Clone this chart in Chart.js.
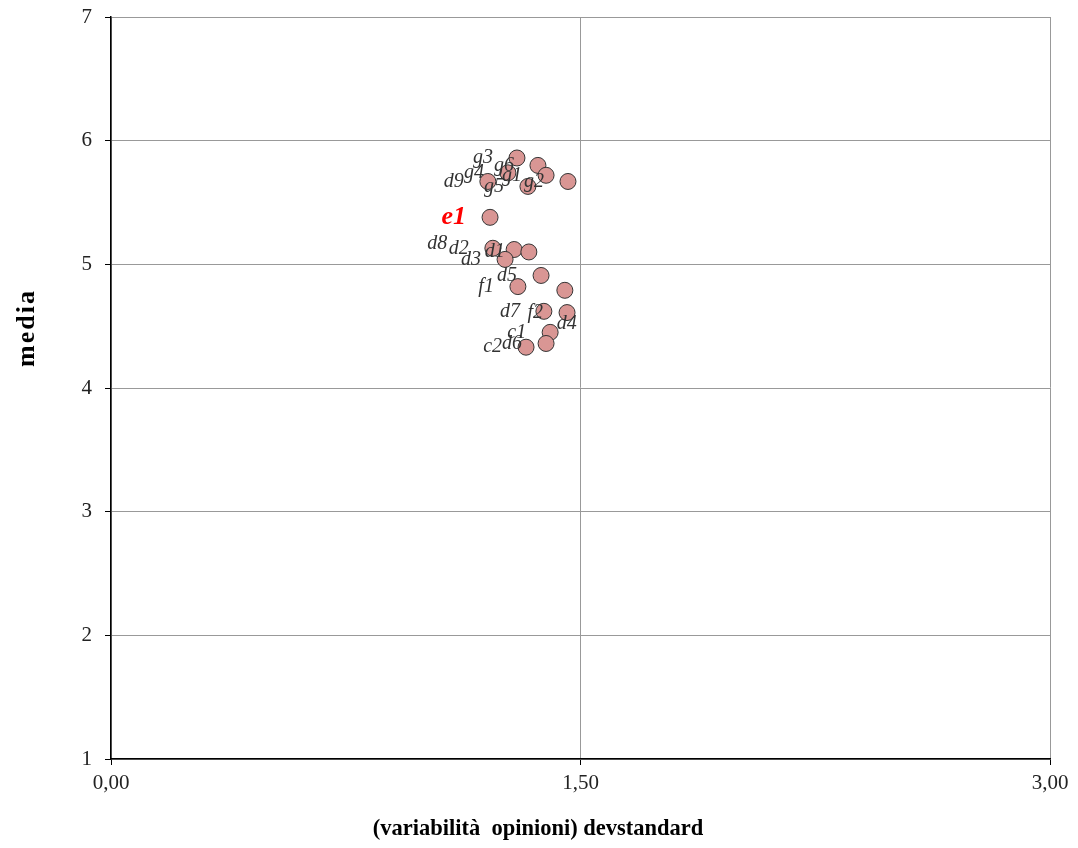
<!DOCTYPE html>
<html>
<head>
<meta charset="utf-8">
<script src="https://cdn.jsdelivr.net/npm/chart.js@4/dist/chart.umd.min.js"></script>
<style>
  body { margin: 0; background: #fff; }
  #wrap { width: 1078px; height: 848px; position: relative; }
</style>
</head>
<body>
<div id="wrap"><canvas id="chart"></canvas></div>
<script>
// item names, standard deviation (x) and mean (y)
var names  = ['g3', 'g6', 'g1', 'g2', 'd9', 'g4', 'g5', 'e1', 'd2', 'd8',
              'd1', 'd3', 'd5', 'f1', 'd4', 'd7', 'f2', 'c1', 'd6', 'c2'];
var devStd = [1.297, 1.364, 1.390, 1.460, 1.204, 1.268, 1.332, 1.211, 1.220, 1.288,
              1.335, 1.259, 1.374, 1.300, 1.450, 1.383, 1.457, 1.403, 1.390, 1.326];
var media  = [5.86, 5.80, 5.72, 5.67, 5.67, 5.74, 5.63, 5.38, 5.13, 5.12,
              5.10, 5.04, 4.91, 4.82, 4.79, 4.62, 4.61, 4.45, 4.36, 4.33];

var highlighted = 'e1';
var xTitle = '(variabilità  opinioni) devstandard';
var yTitle = 'media';

// a few labels were dragged by hand in the original
var labelNudge = { d8: [-43, -6], d4: [36, 33] };

var points = devStd.map(function (x, i) { return { x: x, y: media[i] }; });

var serif = "'Liberation Serif', 'Times New Roman', serif";

var pointLabels = {
  id: 'pointLabels',
  afterDatasetsDraw: function (chart) {
    var ctx = chart.ctx;
    var meta = chart.getDatasetMeta(0);
    ctx.save();
    ctx.textAlign = 'right';
    ctx.textBaseline = 'middle';
    meta.data.forEach(function (el, i) {
      var name = names[i];
      var nudge = labelNudge[name] || [0, 0];
      if (name === highlighted) {
        ctx.font = 'italic bold 26px ' + serif;
        ctx.fillStyle = '#ff0000';
      } else {
        ctx.font = 'italic 20px ' + serif;
        ctx.fillStyle = '#333';
      }
      ctx.fillText(name, el.x - 24 + nudge[0], el.y + nudge[1]);
    });
    ctx.restore();
  }
};

var axisTitles = {
  id: 'axisTitles',
  afterDraw: function (chart) {
    var ctx = chart.ctx;
    ctx.save();
    ctx.fillStyle = '#000';
    ctx.textAlign = 'center';
    ctx.textBaseline = 'middle';
    ctx.font = 'bold 22.5px ' + serif;
    ctx.fillText(xTitle, 538, 829);
    ctx.translate(27, 328);
    ctx.rotate(-Math.PI / 2);
    ctx.font = 'bold 26px ' + serif;
    ctx.letterSpacing = '2px';
    ctx.fillText(yTitle, 0, 0);
    ctx.restore();
  }
};

new Chart(document.getElementById('chart'), {
  type: 'scatter',
  data: {
    datasets: [{
      data: points,
      pointRadius: 8,
      pointHoverRadius: 8,
      pointBackgroundColor: '#d99694',
      pointBorderColor: '#333',
      pointBorderWidth: 1
    }]
  },
  options: {
    responsive: true,
    maintainAspectRatio: false,
    animation: false,
    layout: { padding: { top: 17, right: 28, left: 0, bottom: 0 } },
    plugins: {
      legend: { display: false },
      tooltip: { enabled: false }
    },
    scales: {
      x: {
        type: 'linear',
        min: 0,
        max: 3,
        afterFit: function (scale) {
          scale.height = 89;
          scale.paddingLeft = 0;
          scale.paddingRight = 0;
        },
        ticks: {
          stepSize: 1.5,
          padding: 6,
          color: '#222',
          font: { family: serif, size: 21 },
          callback: function (v) { return v.toFixed(2).replace('.', ','); }
        },
        grid: { color: '#999', lineWidth: 1, tickLength: 6, tickColor: '#000' },
        border: { color: '#000', width: 1.5 }
      },
      y: {
        min: 1,
        max: 7,
        afterFit: function (scale) {
          scale.width = 111;
          scale.paddingTop = 0;
          scale.paddingBottom = 0;
        },
        ticks: {
          stepSize: 1,
          padding: 13,
          color: '#222',
          font: { family: serif, size: 21 }
        },
        grid: { color: '#999', lineWidth: 1, tickLength: 6, tickColor: '#000' },
        border: { color: '#000', width: 1.5 }
      }
    }
  },
  plugins: [pointLabels, axisTitles]
});
</script>
</body>
</html>
